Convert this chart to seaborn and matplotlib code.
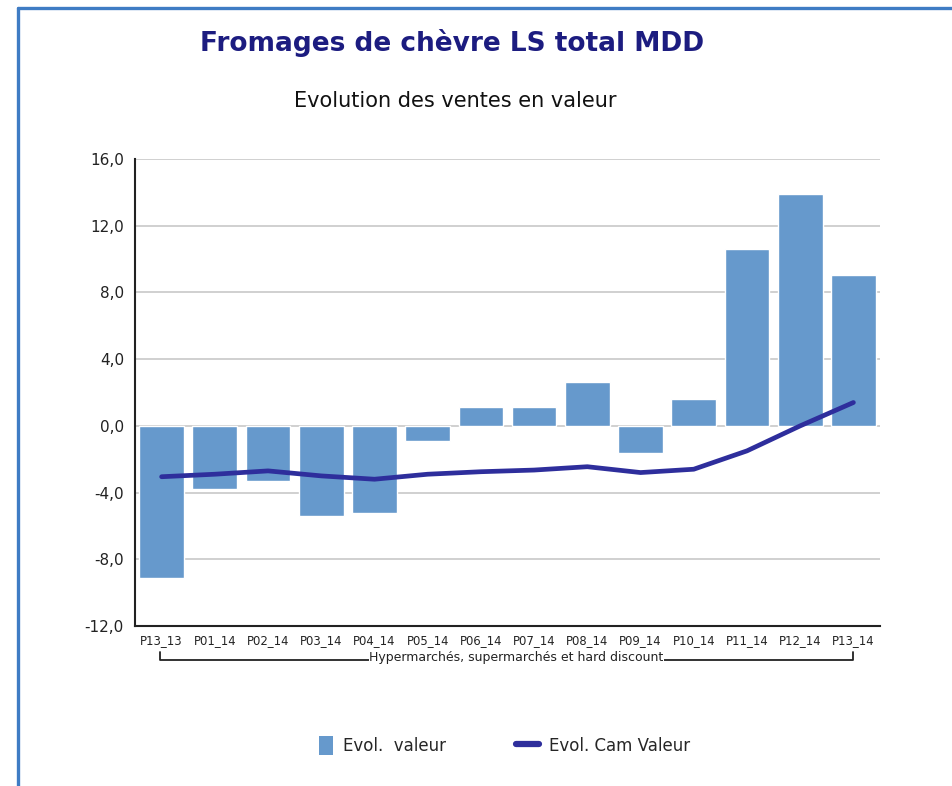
import matplotlib
matplotlib.use("Agg")
import matplotlib.pyplot as plt
import seaborn as sns
import pandas as pd
from matplotlib.lines import Line2D
from matplotlib.patches import Patch, Rectangle
from matplotlib.legend_handler import HandlerPatch
from matplotlib.ticker import FuncFormatter

periodes = ["P13_13", "P01_14", "P02_14", "P03_14", "P04_14", "P05_14", "P06_14",
            "P07_14", "P08_14", "P09_14", "P10_14", "P11_14", "P12_14", "P13_14"]
evol_valeur = [-9.1, -3.8, -3.3, -5.4, -5.2, -0.9, 1.15, 1.15, 2.6, -1.6, 1.6, 10.6, 13.9, 9.05]
evol_cam_valeur = [-3.05, -2.9, -2.7, -3.0, -3.2, -2.9, -2.75, -2.65, -2.45, -2.8, -2.6, -1.5, 0.0, 1.4]
y_ticks = [-12, -8, -4, 0, 4, 8, 12, 16]

BAR_BLUE = "#6699cc"
LINE_BLUE = "#2e2e9c"
TITLE_BLUE = "#1c1c80"
FRAME_BLUE = "#3f7cc4"

df = pd.DataFrame({"periode": periodes, "valeur": evol_valeur, "cam": evol_cam_valeur})

sns.set_theme(style="white")
plt.rcParams["font.family"] = ["DejaVu Sans"]

fig = plt.figure(figsize=(9.53, 7.86), dpi=100)
ax = fig.add_axes([135 / 953, 1 - 626 / 786, 745 / 953, 467 / 786])

sns.barplot(data=df, x="periode", y="valeur", color=BAR_BLUE, saturation=1,
            width=0.84, ax=ax, zorder=2)
sns.lineplot(data=df, x="periode", y="cam", sort=False, color=LINE_BLUE,
             linewidth=3.4, ax=ax, zorder=3, solid_capstyle="round",
             solid_joinstyle="round")

ax.set_xlim(-0.5, len(periodes) - 0.5)
ax.set_ylim(-12, 16)
ax.set_yticks(y_ticks)
ax.yaxis.set_major_formatter(FuncFormatter(lambda v, p: f"{v:.1f}".replace(".", ",")))
ax.grid(axis="y", color="#c8c8c8", linewidth=1.2, zorder=0)
ax.set_axisbelow(True)
ax.set_xlabel("")
ax.set_ylabel("")
for side in ["top", "right"]:
    ax.spines[side].set_visible(False)
for side in ["left", "bottom"]:
    ax.spines[side].set_color("#222222")
    ax.spines[side].set_linewidth(1.5)
ax.tick_params(axis="y", length=0, pad=8, labelsize=11, labelcolor="#222222")
ax.tick_params(axis="x", length=0, pad=6, labelsize=8.4, labelcolor="#222222")

# Grouping bracket under the period labels
trans = ax.get_xaxis_transform()
y_br = -0.072
y_tip = -0.055
ax.plot([-0.03, -0.03, 13.0, 13.0], [y_tip, y_br, y_br, y_tip], transform=trans,
        color="#222222", linewidth=1.3, clip_on=False)
ax.text(6.66, y_br + 0.004, "Hypermarchés, supermarchés et hard discount", transform=trans,
        ha="center", va="center", fontsize=9, color="#222222",
        bbox=dict(facecolor="white", edgecolor="none", pad=0.3), clip_on=False)

# Titles
fig.text(452 / 953, 1 - 43 / 786, "Fromages de chèvre LS total MDD", ha="center",
         va="center", fontsize=19, fontweight="bold", color=TITLE_BLUE)
fig.text(455 / 953, 1 - 101 / 786, "Evolution des ventes en valeur", ha="center",
         va="center", fontsize=15, color="#111111")


class SquarePatchHandler(HandlerPatch):
    def create_artists(self, legend, orig_handle, xdescent, ydescent, width, height,
                       fontsize, trans):
        w = height * 0.95
        rect = Rectangle((-xdescent + width - w, -ydescent - height * 0.15), w, height * 1.3,
                         facecolor=orig_handle.get_facecolor(), edgecolor="none",
                         transform=trans)
        return [rect]


# Legend
bar_handle = Patch(facecolor=BAR_BLUE, edgecolor="none", label="Evol.  valeur")
line_handle = Line2D([0], [0], color=LINE_BLUE, linewidth=4.5, label="Evol. Cam Valeur")
fig.legend(handles=[bar_handle, line_handle], loc="center",
           bbox_to_anchor=(500 / 953, 1 - 746 / 786),
           ncol=2, frameon=False, fontsize=12, handlelength=1.4, handleheight=1.0,
           columnspacing=4.2, handletextpad=0.6,
           handler_map={Patch: SquarePatchHandler()})

# Outer frame lines on the top and left edges
fig.add_artist(Line2D([18 / 953, 1.0], [1 - 8 / 786, 1 - 8 / 786], transform=fig.transFigure,
                      color=FRAME_BLUE, linewidth=2.4))
fig.add_artist(Line2D([18 / 953, 18 / 953], [0, 1 - 8 / 786], transform=fig.transFigure,
                      color=FRAME_BLUE, linewidth=2.4))

fig.savefig("out.png", dpi=100)
